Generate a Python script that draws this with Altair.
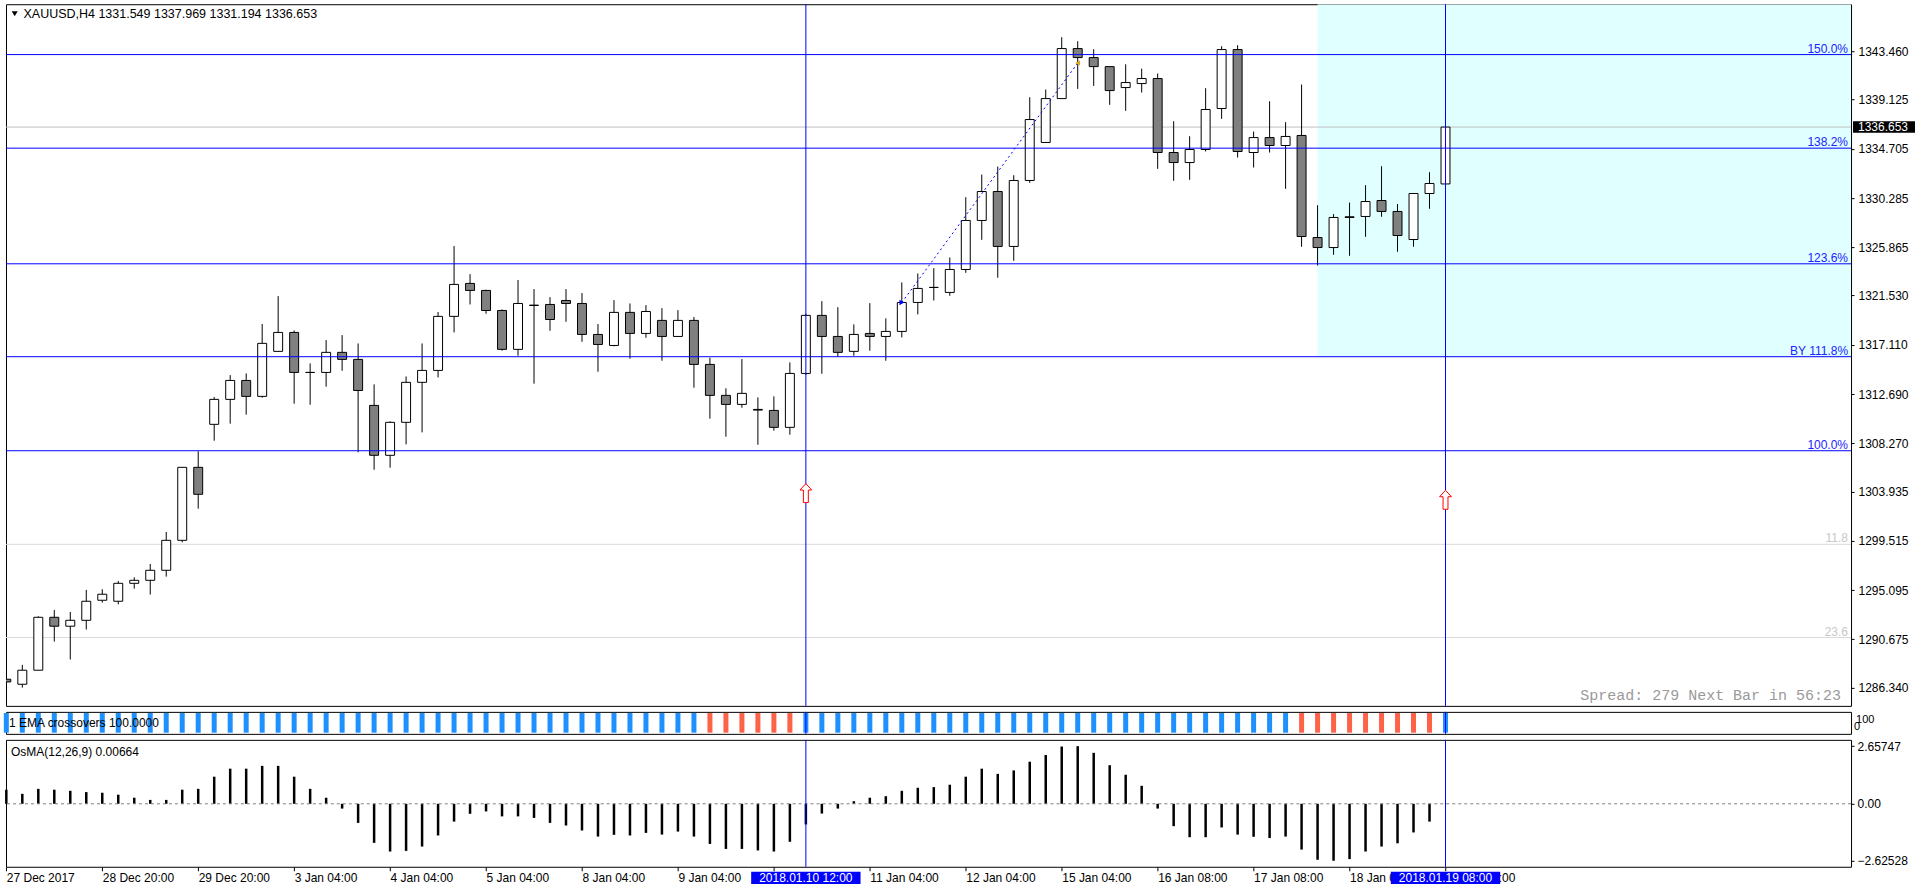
import altair as alt
import pandas as pd

# ---------------- data ----------------
bars = list(range(91))
opens = [1287.09, 1286.64, 1287.90, 1292.65, 1291.85, 1292.38, 1294.18, 1294.09, 1295.70, 1295.97,
         1296.87, 1299.56, 1306.11, 1309.97, 1312.21, 1313.91, 1312.48, 1316.52, 1318.22, 1314.63,
         1314.63, 1316.43, 1315.80, 1311.67, 1307.19, 1310.15, 1313.74, 1314.81, 1319.66, 1322.62,
         1321.99, 1320.19, 1316.70, 1320.67, 1320.73, 1321.09, 1320.82, 1318.04, 1317.05, 1320.02,
         1318.13, 1319.30, 1317.86, 1319.30, 1315.35, 1312.57, 1311.76, 1311.31, 1311.22, 1309.70,
         1314.54, 1319.75, 1317.86, 1316.52, 1318.13, 1317.86, 1318.31, 1320.91, 1322.26, 1321.81,
         1323.87, 1328.27, 1330.87, 1325.94, 1331.86, 1335.27, 1339.21, 1343.70, 1342.89, 1342.08,
         1340.20, 1340.56, 1341.01, 1334.37, 1333.47, 1334.64, 1338.32, 1343.61, 1334.37, 1335.71,
         1335.00, 1335.90, 1326.74, 1325.84, 1328.60, 1328.63, 1330.06, 1329.08, 1326.56, 1330.69,
         1331.549]
highs = [1289.03, 1288.38, 1292.74, 1293.31, 1293.13, 1295.11, 1295.17, 1295.91, 1296.24, 1297.44,
         1300.31, 1306.11, 1307.55, 1312.42, 1314.39, 1314.54, 1318.97, 1321.48, 1318.40, 1315.44,
         1317.53, 1317.98, 1317.23, 1313.56, 1310.24, 1314.27, 1317.23, 1320.05, 1325.97, 1323.45,
         1322.05, 1320.28, 1322.92, 1322.11, 1321.39, 1322.11, 1321.75, 1318.97, 1321.12, 1320.82,
         1320.67, 1320.40, 1320.22, 1319.60, 1315.95, 1313.20, 1315.83, 1312.39, 1312.48, 1315.53,
         1319.90, 1321.03, 1320.49, 1318.94, 1320.85, 1319.48, 1322.71, 1323.51, 1323.99, 1324.95,
         1330.36, 1332.39, 1333.11, 1332.33, 1339.33, 1340.02, 1344.72, 1344.36, 1343.64, 1342.08,
         1342.29, 1341.90, 1341.46, 1337.18, 1335.83, 1340.14, 1343.91, 1344.00, 1336.25, 1338.97,
         1337.09, 1340.47, 1329.64, 1328.84, 1329.88, 1331.44, 1333.14, 1329.74, 1330.69, 1332.60,
         1337.969]
lows = [1286.20, 1286.34, 1287.90, 1290.47, 1288.86, 1291.55, 1293.97, 1293.82, 1295.22, 1294.69,
        1296.30, 1299.38, 1302.40, 1308.50, 1310.03, 1310.84, 1312.36, 1316.52, 1311.82, 1311.73,
        1313.35, 1314.78, 1307.46, 1305.90, 1306.08, 1308.17, 1309.25, 1314.18, 1318.22, 1320.73,
        1319.90, 1316.58, 1316.13, 1313.62, 1318.37, 1319.18, 1317.38, 1314.69, 1316.97, 1315.86,
        1317.74, 1315.68, 1317.86, 1313.26, 1310.48, 1308.86, 1311.46, 1308.14, 1309.40, 1309.04,
        1314.40, 1314.51, 1316.04, 1316.13, 1316.58, 1315.68, 1317.77, 1319.84, 1321.09, 1321.51,
        1323.57, 1326.53, 1323.13, 1324.65, 1331.65, 1335.27, 1339.21, 1340.08, 1340.35, 1338.65,
        1338.11, 1339.75, 1332.90, 1331.83, 1331.92, 1334.46, 1337.39, 1333.92, 1333.02, 1334.37,
        1331.11, 1325.91, 1324.23, 1325.19, 1325.10, 1326.80, 1328.60, 1325.46, 1325.91, 1329.32,
        1331.194]
closes = [1286.85, 1287.90, 1292.65, 1291.85, 1292.38, 1294.09, 1294.72, 1295.70, 1295.97, 1296.87,
          1299.56, 1306.11, 1303.69, 1312.21, 1313.91, 1312.48, 1317.24, 1318.22, 1314.63, 1314.63,
          1316.43, 1315.80, 1313.01, 1307.19, 1310.15, 1313.74, 1314.81, 1319.66, 1322.53, 1321.99,
          1320.19, 1316.70, 1320.82, 1320.64, 1319.38, 1320.82, 1318.04, 1317.14, 1320.02, 1318.13,
          1320.10, 1317.86, 1319.30, 1315.35, 1312.57, 1311.76, 1312.75, 1311.25, 1309.70, 1314.54,
          1319.75, 1317.86, 1316.43, 1318.04, 1317.86, 1318.31, 1320.91, 1322.17, 1322.26, 1323.87,
          1328.27, 1330.87, 1325.94, 1331.86, 1337.33, 1339.21, 1343.70, 1342.89, 1342.08, 1339.93,
          1340.65, 1341.01, 1334.37, 1333.47, 1334.64, 1338.23, 1343.61, 1334.46, 1335.71, 1335.00,
          1335.81, 1326.83, 1325.84, 1328.54, 1328.54, 1329.97, 1329.08, 1326.92, 1330.69, 1331.59,
          1336.653]
osma = [0.65, 0.46, 0.69, 0.65, 0.60, 0.54, 0.51, 0.42, 0.28, 0.18, 0.18,
        0.65, 0.69, 1.25, 1.62, 1.62, 1.75, 1.75, 1.25, 0.69, 0.28,
        -0.22, -0.88, -1.80, -2.20, -2.17, -1.97, -1.46, -0.82, -0.46, -0.35,
        -0.58, -0.58, -0.65, -0.88, -1.00, -1.23, -1.51, -1.43, -1.46, -1.34,
        -1.42, -1.28, -1.51, -1.85, -2.08, -2.08, -2.15, -2.20, -1.75, -0.95,
        -0.45, -0.22, 0.12, 0.28, 0.35, 0.60, 0.74, 0.77, 0.88, 1.25,
        1.62, 1.38, 1.54, 1.94, 2.25, 2.64, 2.65747, 2.35, 1.78, 1.34,
        0.83, -0.22, -1.03, -1.54, -1.54, -1.09, -1.42, -1.52, -1.58, -1.51,
        -2.11, -2.58, -2.62528, -2.55, -2.20, -1.97, -1.82, -1.32, -0.82, 0.00664]
ema_signal = ["down" if (44 <= b <= 49 or 81 <= b <= 89) else "up" for b in bars]

price_ticks = [1343.460, 1339.125, 1334.705, 1330.285, 1325.865, 1321.530, 1317.110,
               1312.690, 1308.270, 1303.935, 1299.515, 1295.095, 1290.675, 1286.340]
date_tick_bars = [0, 6, 12, 18, 24, 30, 36, 42, 48, 54, 60, 66, 72, 78, 84, 90]
# the label at bar 48 is fully hidden by the highlighted crosshair date in the reference
date_tick_labels = ["27 Dec 2017", "28 Dec 20:00", "29 Dec 20:00", "3 Jan 04:00", "4 Jan 04:00",
                    "5 Jan 04:00", "8 Jan 04:00", "9 Jan 04:00", "", "11 Jan 04:00",
                    "12 Jan 04:00", "15 Jan 04:00", "16 Jan 08:00", "17 Jan 08:00", "18 Jan 08:00",
                    "19 Jan 08:00"]

fib_prices = [1343.16, 1334.76, 1324.38, 1316.04, 1307.60]
fib_labels = ["150.0%", "138.2%", "123.6%", "BY 111.8%", "100.0%"]
gray_prices = [1299.20, 1290.83]
gray_labels = ["11.8", "23.6"]
zone_start_bar = [82]
zone_low = [1316.04]
cross_bars = [50, 90]
cross_labels = ["2018.01.10 12:00", "2018.01.19 08:00"]
arrow_bars = [50, 90]
arrow_prices = [1303.8, 1303.2]
trend_bars = [56, 67]
trend_prices = [1320.9, 1342.4]
last_price = [1336.653]
header = "XAUUSD,H4  1331.549 1337.969 1331.194 1336.653"
spread_text = "Spread: 279 Next Bar in 56:23"
ema_title = "1 EMA crossovers 100.0000"
osma_title = "OsMA(12,26,9) 0.00664"
osma_ticks = [2.65747, 0, -2.62528]

# ---------------- layout ----------------
W = 1846
H_MAIN = 702
H_EMA = 22
H_OSMA = 127
X_DOM = [-0.02, 115.36]
Y_DOM = [1284.70, 1347.68]
O_DOM = [-2.903, 2.949]
FONT = "Liberation Sans"

xs = alt.Scale(domain=X_DOM, nice=False, zero=False)
ys = alt.Scale(domain=Y_DOM, nice=False, zero=False)

df = pd.DataFrame({"bar": bars, "open": opens, "high": highs, "low": lows, "close": closes})
df["dir"] = ["up" if c >= o else "down" for o, c in zip(opens, closes)]

y_axis = alt.Axis(orient="right", values=price_ticks, format=".3f", title=None, tickSize=3,
                  labelPadding=4, domain=False, grid=False, labelOverlap=False)


def Yp(field):
    return alt.Y(field, scale=ys, axis=y_axis)


def Xm(field):
    return alt.X(field, scale=xs, axis=None)


# --- main panel layers
zone = alt.Chart(pd.DataFrame({"bar": zone_start_bar, "low": zone_low, "top": [Y_DOM[1]]})).mark_rect(
    color="#E0FFFF", clip=True).encode(
    x=Xm("bar:Q"), x2=alt.value(W), y=Yp("low:Q"), y2="top:Q")

gray_df = pd.DataFrame({"price": gray_prices, "label": gray_labels})
gray_lines = alt.Chart(gray_df).mark_rule(color="#D9D9D9", strokeWidth=1).encode(y=Yp("price:Q"))
gray_text = alt.Chart(gray_df).mark_text(align="right", baseline="bottom", dy=1, color="#C8C8C8",
                                         fontSize=12, font=FONT).encode(
    x=alt.value(W - 3), y=Yp("price:Q"), text="label:N")

last_line = alt.Chart(pd.DataFrame({"price": last_price})).mark_rule(color="#C0C0C0").encode(
    y=Yp("price:Q"))

wicks = alt.Chart(df).mark_rule(color="black", strokeWidth=1, clip=True).encode(
    x=Xm("bar:Q"), y=Yp("low:Q"), y2="high:Q")
bodies = alt.Chart(df).transform_calculate(
    x1="datum.bar - 0.28", x2="datum.bar + 0.28").mark_rect(
    stroke="black", strokeWidth=1, clip=True).encode(
    x=Xm("x1:Q"), x2="x2:Q", y=Yp("open:Q"), y2="close:Q",
    fill=alt.Fill("dir:N", scale=alt.Scale(domain=["up", "down"], range=["#FFFFFF", "#808080"]),
                  legend=None))

fib_df = pd.DataFrame({"price": fib_prices, "label": fib_labels})
fib_lines = alt.Chart(fib_df).mark_rule(color="#0000FF", strokeWidth=1).encode(y=Yp("price:Q"))
fib_text = alt.Chart(fib_df).mark_text(align="right", baseline="bottom", dy=1, color="#2222FF",
                                       fontSize=12, font=FONT).encode(
    x=alt.value(W - 3), y=Yp("price:Q"), text="label:N")

trend_df = pd.DataFrame({"bar": trend_bars, "price": trend_prices})
trend = alt.Chart(trend_df).mark_line(color="#0000FF", strokeWidth=1, strokeDash=[2, 3]).encode(
    x=Xm("bar:Q"), y=Yp("price:Q"))
trend_start = alt.Chart(trend_df.iloc[[0]]).mark_point(shape="triangle-right", filled=True,
                                                        color="#0000FF", size=30, opacity=1).encode(
    x=Xm("bar:Q"), y=Yp("price:Q"))
trend_end = alt.Chart(trend_df.iloc[[1]]).mark_point(shape="triangle-left", filled=True,
                                                      color="#DAA520", size=30, opacity=1).encode(
    x=Xm("bar:Q"), y=Yp("price:Q"))

cross_df = pd.DataFrame({"bar": cross_bars, "label": cross_labels})
vlines_main = alt.Chart(cross_df).mark_rule(color="#0000FF", strokeWidth=1).encode(x=Xm("bar:Q"))

arrow_path = "M0,-1L0.62,-0.32L0.26,-0.32L0.26,1L-0.26,1L-0.26,-0.32L-0.62,-0.32Z"
arrows = alt.Chart(pd.DataFrame({"bar": arrow_bars, "price": arrow_prices})).mark_point(
    shape=arrow_path, filled=True, fill="white", stroke="#FF0000", strokeWidth=1, size=361,
    opacity=1).encode(x=Xm("bar:Q"), y=Yp("price:Q"))

head_df = pd.DataFrame({"t": [header]})
head_tri = alt.Chart(head_df).mark_point(shape="triangle-down", filled=True, color="black",
                                         size=36, opacity=1).encode(
    x=alt.value(8.7), y=alt.value(9.5))
head_text = alt.Chart(head_df).mark_text(align="left", baseline="middle", fontSize=12.5,
                                         font=FONT, color="black").encode(
    x=alt.value(17.5), y=alt.value(10), text="t:N")

spread = alt.Chart(pd.DataFrame({"t": [spread_text]})).mark_text(
    align="right", baseline="middle", fontSize=15, font="Liberation Mono", color="#9A9A9A").encode(
    x=alt.value(W - 10), y=alt.value(H_MAIN - 11), text="t:N")

lp_df = pd.DataFrame({"price": last_price})
lp_box = alt.Chart(lp_df).transform_calculate(
    p1="datum.price - 0.52", p2="datum.price + 0.52").mark_rect(color="black").encode(
    x=alt.value(W + 2), x2=alt.value(W + 64), y=Yp("p1:Q"), y2="p2:Q")
lp_text = alt.Chart(lp_df).mark_text(align="left", baseline="middle", fontSize=12, font=FONT,
                                     color="white").encode(
    x=alt.value(W + 7), y=Yp("price:Q"), text=alt.Text("price:Q", format=".3f"))

main = alt.layer(zone, gray_lines, gray_text, last_line, wicks, bodies, fib_lines, fib_text,
                 trend, trend_start, trend_end, vlines_main, arrows, head_tri, head_text, spread,
                 lp_box, lp_text).properties(width=W, height=H_MAIN)

# --- EMA crossover panel
ema_df = pd.DataFrame({"bar": bars, "sig": ema_signal, "lo": 0, "hi": 100})
ema_bars = alt.Chart(ema_df).mark_rule(strokeWidth=5).encode(
    x=Xm("bar:Q"),
    y=alt.Y("lo:Q", scale=alt.Scale(domain=[-6, 106], nice=False), axis=None), y2="hi:Q",
    color=alt.Color("sig:N", scale=alt.Scale(domain=["up", "down"], range=["#1E90FF", "#FF6347"]),
                    legend=None))
ema_vl = alt.Chart(cross_df).mark_rule(color="#0000FF", strokeWidth=1).encode(x=Xm("bar:Q"))
ema_txt = alt.Chart(pd.DataFrame({"t": [ema_title]})).mark_text(
    align="left", baseline="middle", fontSize=12, font=FONT, color="black").encode(
    x=alt.value(3), y=alt.value(H_EMA / 2), text="t:N")
ema_lab100 = alt.Chart(pd.DataFrame({"t": ["100"]})).mark_text(
    align="left", baseline="middle", fontSize=11, font=FONT, color="black").encode(
    x=alt.value(W + 5), y=alt.value(8), text="t:N")
ema_lab0 = alt.Chart(pd.DataFrame({"t": ["0"]})).mark_text(
    align="left", baseline="middle", fontSize=11, font=FONT, color="black").encode(
    x=alt.value(W + 3), y=alt.value(15), text="t:N")
ema = alt.layer(ema_bars, ema_vl, ema_txt, ema_lab100, ema_lab0).properties(
    width=W, height=H_EMA)

# --- OsMA panel
lab_expr = "[" + ",".join("'" + s + "'" for s in date_tick_labels) + "][round(datum.value / 6)]"
x_axis = alt.Axis(values=date_tick_bars, labelExpr=lab_expr, labelAlign="left", labelFlush=False,
                  labelBaseline="top", tickSize=4, labelPadding=2, domain=False, grid=False,
                  title=None, labelOverlap=False)
o_axis = alt.Axis(orient="right", values=osma_ticks, title=None, tickSize=3, labelPadding=3,
                  domain=False, grid=False, labelOverlap=False,
                  labelExpr="datum.value == 0 ? '0.00' : format(datum.value, '.5f')")
os_scale = alt.Scale(domain=O_DOM, nice=False, zero=False)


def Xo(field):
    return alt.X(field, scale=xs, axis=x_axis)


def Yo(field):
    return alt.Y(field, scale=os_scale, axis=o_axis)


os_df = pd.DataFrame({"bar": bars, "val": osma, "zero": 0.0})
os_bars = alt.Chart(os_df).mark_rule(color="black", strokeWidth=2.5).encode(
    x=Xo("bar:Q"), y=Yo("zero:Q"), y2="val:Q")
os_zero = alt.Chart(pd.DataFrame({"zero": [0.0]})).mark_rule(color="#808080", strokeDash=[3, 3]).encode(
    y=Yo("zero:Q"))
os_vl = alt.Chart(cross_df).mark_rule(color="#0000FF", strokeWidth=1).encode(x=Xo("bar:Q"))
os_txt = alt.Chart(pd.DataFrame({"t": [osma_title]})).mark_text(
    align="left", baseline="middle", fontSize=12, font=FONT, color="black").encode(
    x=alt.value(5), y=alt.value(12), text="t:N")
date_box = alt.Chart(cross_df).transform_calculate(
    b1="datum.bar - 3.42", b2="datum.bar + 3.42").mark_rect(color="#0000FF").encode(
    x=Xo("b1:Q"), x2="b2:Q",
    y=alt.value(H_OSMA + 5), y2=alt.value(H_OSMA + 18))
date_txt = alt.Chart(cross_df).mark_text(align="center", baseline="middle", fontSize=12, font=FONT,
                                         color="white").encode(
    x=Xo("bar:Q"), y=alt.value(H_OSMA + 11.7), text="label:N")
osma_chart = alt.layer(os_bars, os_zero, os_vl, os_txt, date_box, date_txt).properties(
    width=W, height=H_OSMA)

chart = alt.vconcat(main, ema, osma_chart, spacing=3).properties(
    padding={"left": 3, "top": 3, "right": 0, "bottom": 0}, background="white"
).configure_view(stroke="black", strokeWidth=1).configure_axis(
    labelFont=FONT, labelFontSize=12, labelColor="black", tickColor="black", tickWidth=1
)

chart.save("out.html", embed_options={"renderer": "svg", "actions": False})
